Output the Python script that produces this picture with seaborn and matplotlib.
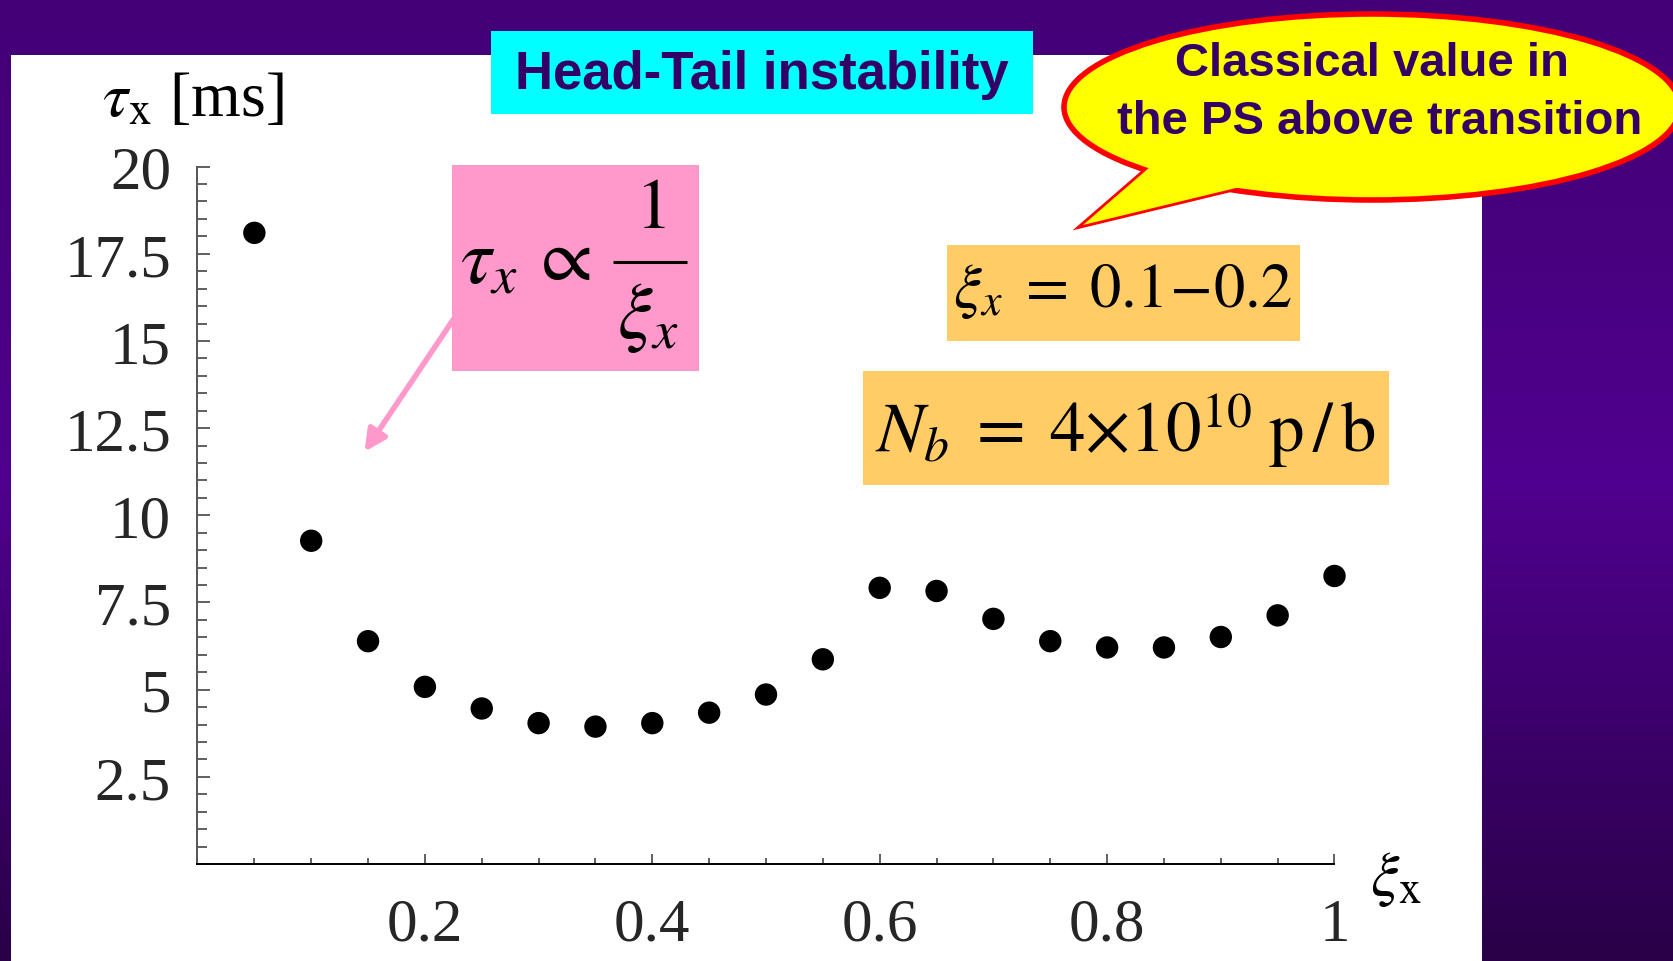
import numpy as np
import pandas as pd
import matplotlib
matplotlib.use("Agg")
import matplotlib.pyplot as plt
from matplotlib.patches import Rectangle, Ellipse, Polygon, FancyArrowPatch
from matplotlib.colors import LinearSegmentedColormap
from matplotlib.ticker import MultipleLocator
import seaborn as sns

# ===============================================================
# DATA
# ===============================================================
xi_x = [0.05, 0.10, 0.15, 0.20, 0.25, 0.30, 0.35, 0.40, 0.45, 0.50,
        0.55, 0.60, 0.65, 0.70, 0.75, 0.80, 0.85, 0.90, 0.95, 1.00]
tau_x = [18.1, 9.27, 6.39, 5.08, 4.46, 4.04, 3.94, 4.04, 4.34, 4.86,
         5.87, 7.92, 7.83, 7.03, 6.39, 6.21, 6.21, 6.51, 7.13, 8.26]

x_ticks = [0.2, 0.4, 0.6, 0.8, 1.0]
x_tick_labels = ["0.2", "0.4", "0.6", "0.8", "1"]
y_ticks = [2.5, 5, 7.5, 10, 12.5, 15, 17.5, 20]
y_tick_labels = ["2.5", "5", "7.5", "10", "12.5", "15", "17.5", "20"]

title = "Head-Tail instability"
bubble_lines = ["Classical value in", "the PS above transition"]

df = pd.DataFrame({"xi": xi_x, "tau": tau_x})

# ===============================================================
# STYLE
# ===============================================================
sns.set_style("white")
plt.rcParams["mathtext.fontset"] = "stix"
plt.rcParams["font.family"] = ["Liberation Serif", "DejaVu Serif"]
sans = ["Liberation Sans", "DejaVu Sans"]

W, H = 1674, 962
fig = plt.figure(figsize=(W / 100, H / 100), dpi=100)

# background layer in pixel coordinates
bg = fig.add_axes([0, 0, 1, 1], zorder=0)
bg.set_xlim(0, W)
bg.set_ylim(H, 0)
bg.axis("off")

cmap = LinearSegmentedColormap.from_list(
    "slide", ["#440077", "#48007f", "#50008f", "#3c006c", "#2a0048"])
grad = np.linspace(0, 1, 256).reshape(-1, 1)
bg.imshow(grad, cmap=cmap, extent=[0, W, H, 0], aspect="auto")

# white panel
bg.add_patch(Rectangle((11, 56), 1471, 910, fc="white", ec="none"))

# title box
bg.add_patch(Rectangle((491, 32), 542, 83, fc="#00FFFF", ec="none"))
bg.text(762, 75, title, ha="center", va="center", fontsize=38,
        fontweight="bold", color="#330066", family=sans)

# speech bubble
tail = [(1150, 168), (1083, 226), (1240, 188)]
bg.add_patch(Polygon(tail, closed=True, fc="#FFFF00", ec="#FF0000", lw=4, zorder=3))
bg.add_patch(Ellipse((1372, 108), 616, 186, fc="#FFFF00", ec="#FF0000", lw=4, zorder=3))
bg.add_patch(Polygon(tail, closed=True, fc="#FFFF00", ec="none", zorder=3.5))
bg.text(1372, 64, bubble_lines[0], ha="center", va="center", fontsize=34,
        fontweight="bold", color="#330066", family=sans, zorder=4)
bg.text(1380, 122, bubble_lines[1], ha="center", va="center", fontsize=34,
        fontweight="bold", color="#330066", family=sans, zorder=4)

# pink formula box + arrow
bg.add_patch(Rectangle((452, 166), 247, 206, fc="#FF99CC", ec="none"))
bg.text(460, 283, r"$\tau_x$", ha="left", va="baseline", fontsize=56, color="black")
bg.text(561, 262, r"$\propto$", ha="center", va="center", fontsize=54, color="black")
bg.text(650, 211, r"$1$", ha="center", va="center", fontsize=52, color="black")
bg.plot([613, 687], [263, 263], color="black", lw=2.2, solid_capstyle="butt")
bg.text(648, 318, r"$\xi_x$", ha="center", va="center", fontsize=56, color="black")
bg.add_patch(FancyArrowPatch((455, 318), (363, 455), arrowstyle="-|>",
                             mutation_scale=32, lw=4, color="#FF99CC"))

# orange parameter boxes
bg.add_patch(Rectangle((947, 246), 353, 96, fc="#FFCC66", ec="none"))
bg.text(1122, 292, r"$\xi_x\;=\;0.1\!-\!0.2$", ha="center", va="center",
        fontsize=45, color="black")
bg.add_patch(Rectangle((863, 372), 526, 114, fc="#FFCC66", ec="none"))
bg.text(1126, 430, r"$N_b\;=\;4{\times}10^{10}\;\mathrm{p\,/\,b}$", ha="center",
        va="center", fontsize=51, color="black")

# axis labels
bg.text(102, 101, r"$\tau_{\mathrm{x}}$ [ms]", ha="left", va="center",
        fontsize=46, color="black")
bg.text(1370, 880, r"$\xi_{\mathrm{x}}$", ha="left", va="center",
        fontsize=46, color="black")

# ===============================================================
# SCATTER
# ===============================================================
ax = fig.add_axes([197.5 / W, 1 - 865 / H, (1334.5 - 197.5) / W, (865 - 167.6) / H],
                  zorder=1)
ax.patch.set_alpha(0)

sns.scatterplot(data=df, x="xi", y="tau", ax=ax, color="black", s=260,
                edgecolor="none", legend=False, clip_on=False)

ax.set_xlim(0, 1)
ax.set_ylim(0, 20)
ax.set_xticks(x_ticks, x_tick_labels)
ax.set_yticks(y_ticks, y_tick_labels)
ax.xaxis.set_minor_locator(MultipleLocator(0.05))
ax.yaxis.set_minor_locator(MultipleLocator(0.5))
ax.tick_params(which="both", direction="in", color="#444444", width=1.2,
               bottom=True, left=True, top=False, right=False)
ax.tick_params(axis="y", which="major", length=9)
ax.tick_params(axis="y", which="minor", length=7)
ax.tick_params(axis="x", which="major", length=7)
ax.tick_params(axis="x", which="minor", length=4)
ax.tick_params(which="major", labelsize=44)
ax.tick_params(axis="x", pad=24)
ax.tick_params(axis="y", pad=19)
ax.set_xlabel("")
ax.set_ylabel("")
sns.despine(ax=ax)
ax.spines["left"].set_color("#555555")
ax.spines["bottom"].set_color("black")
for s in ["left", "bottom"]:
    ax.spines[s].set_linewidth(1.4)

fig.savefig("out.png", dpi=100)
